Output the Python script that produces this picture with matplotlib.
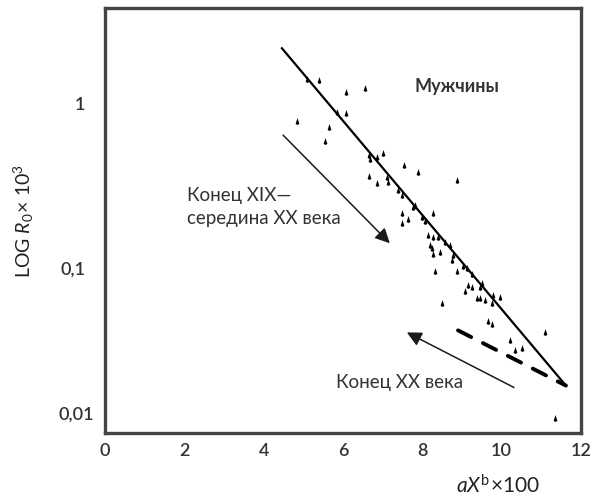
import numpy as np
import matplotlib.pyplot as plt
from matplotlib.ticker import FixedLocator, NullLocator
from matplotlib.transforms import ScaledTranslation

plt.rcParams['font.family'] = ['Lato', 'DejaVu Sans']
plt.rcParams['mathtext.fontset'] = 'custom'
plt.rcParams['mathtext.rm'] = 'Lato'
plt.rcParams['mathtext.it'] = 'Lato:italic'

# точки (aX^b*100, R0*10^3)
pts_x = [5.09, 5.39, 6.08, 6.55, 5.85, 6.08, 4.84, 5.65, 5.55, 6.66,
         6.86, 7.01, 6.68, 7.54, 7.89, 6.66, 6.86, 7.11, 7.13, 7.39,
         7.49, 8.87, 7.82, 7.76, 8.27, 7.49, 7.64, 7.99, 7.49, 8.07,
         8.14, 8.27, 8.39, 8.19, 8.24, 8.27, 8.45, 8.57, 8.70, 8.77,
         8.75, 8.87, 9.03, 9.13, 8.32, 9.25, 9.08, 9.15, 9.25, 9.45,
         9.50, 9.38, 9.45, 9.58, 9.76, 9.78, 9.96, 8.50, 9.66, 9.76,
         10.21, 10.34, 10.51, 11.09, 11.34]
pts_y = [1.41, 1.39, 1.17, 1.24, 0.89, 0.875, 0.78, 0.72, 0.59, 0.486,
         0.473, 0.50, 0.46, 0.423, 0.383, 0.362, 0.329, 0.357, 0.333, 0.298,
         0.278, 0.343, 0.242, 0.235, 0.216, 0.216, 0.199, 0.204, 0.188, 0.193,
         0.159, 0.154, 0.154, 0.138, 0.132, 0.123, 0.125, 0.144, 0.138, 0.12,
         0.112, 0.097, 0.104, 0.100, 0.097, 0.093, 0.073, 0.079, 0.077, 0.077,
         0.081, 0.066, 0.066, 0.064, 0.062, 0.069, 0.067, 0.062, 0.048, 0.046,
         0.0365, 0.0318, 0.0326, 0.0408, 0.0124]

# линия регрессии (конец XIX - середина XX века)
line_x = [4.46, 11.62]
line_y = [2.17, 0.0194]
# конец XX века
dash_x = [8.90, 11.62]
dash_y = [0.042, 0.0194]

yticks = [0.01, 0.1, 1]
ytick_labels = ['0,01', '0,1', '1']
xticks = [0, 2, 4, 6, 8, 10, 12]

fig = plt.figure(figsize=(5.92, 4.97), dpi=100)
ax = fig.add_axes([0.1774, 0.1288, 0.804, 0.8551])
ax.set_yscale('log')
ax.set_xlim(0, 12)
ax.set_ylim(0.01, 3.81)

drop = [(0, 1), (-0.55, -0.7), (0, -1), (0.55, -0.7), (0, 1)]
ax.plot(pts_x, pts_y, ls='none', marker=drop, ms=5, color='black', mew=0)
ax.plot(line_x, line_y, color='black', lw=1.6)
ax.plot(dash_x, dash_y, color='black', lw=2.8, dashes=(3.8, 3.4),
        dash_capstyle='round')

arrow = dict(arrowstyle='-|>', lw=1.1, color='#1a1a1a', mutation_scale=22,
             shrinkA=0, shrinkB=0)
ax.annotate('', xy=(7.18, 0.142), xytext=(4.49, 0.644), arrowprops=arrow)
ax.annotate('', xy=(7.61, 0.0408), xytext=(10.31, 0.0189), arrowprops=arrow)

ax.text(8.87, 1.28, 'Мужчины', ha='center', va='center', fontsize=13,
        fontweight='bold', color='#333333')
ax.text(2.07, 0.235, 'Конец XIX—\nсередина XX века', ha='left', va='center',
        fontsize=13.5, color='#333333', linespacing=1.45)
ax.text(9.03, 0.0203, 'Конец XX века', ha='right', va='center',
        fontsize=13.5, color='#333333')

ax.xaxis.set_major_locator(FixedLocator(xticks))
ax.set_xticklabels([str(t) for t in xticks])
ax.yaxis.set_major_locator(FixedLocator(yticks))
ax.yaxis.set_minor_locator(NullLocator())
ax.set_yticklabels(ytick_labels)
ax.tick_params(axis='both', length=0, labelsize=13, labelcolor='#333333')
ax.tick_params(axis='x', pad=7)
ax.tick_params(axis='y', pad=14)
for lab in ax.get_yticklabels():
    if lab.get_text() == '0,01':
        lab.set_transform(lab.get_transform() +
                          ScaledTranslation(6 / 72, 14 / 72, fig.dpi_scale_trans))
for lab in ax.get_xticklabels() + ax.get_yticklabels():
    lab.set_fontweight('semibold')

for s in ax.spines.values():
    s.set_color('#444444')
    s.set_linewidth(2.4)

fig.text(0.04, 0.556, r'LOG $\mathit{R}_0\!\times\,\mathit{10}^3$', rotation=90,
         ha='center', va='center', fontsize=14, color='#222222')
fig.text(0.841, 0.024, r'$\mathit{aX}^{\mathrm{b}}\!\times\!100$', ha='center',
         va='center', fontsize=15, color='#222222')

fig.savefig('out.png', dpi=100)
